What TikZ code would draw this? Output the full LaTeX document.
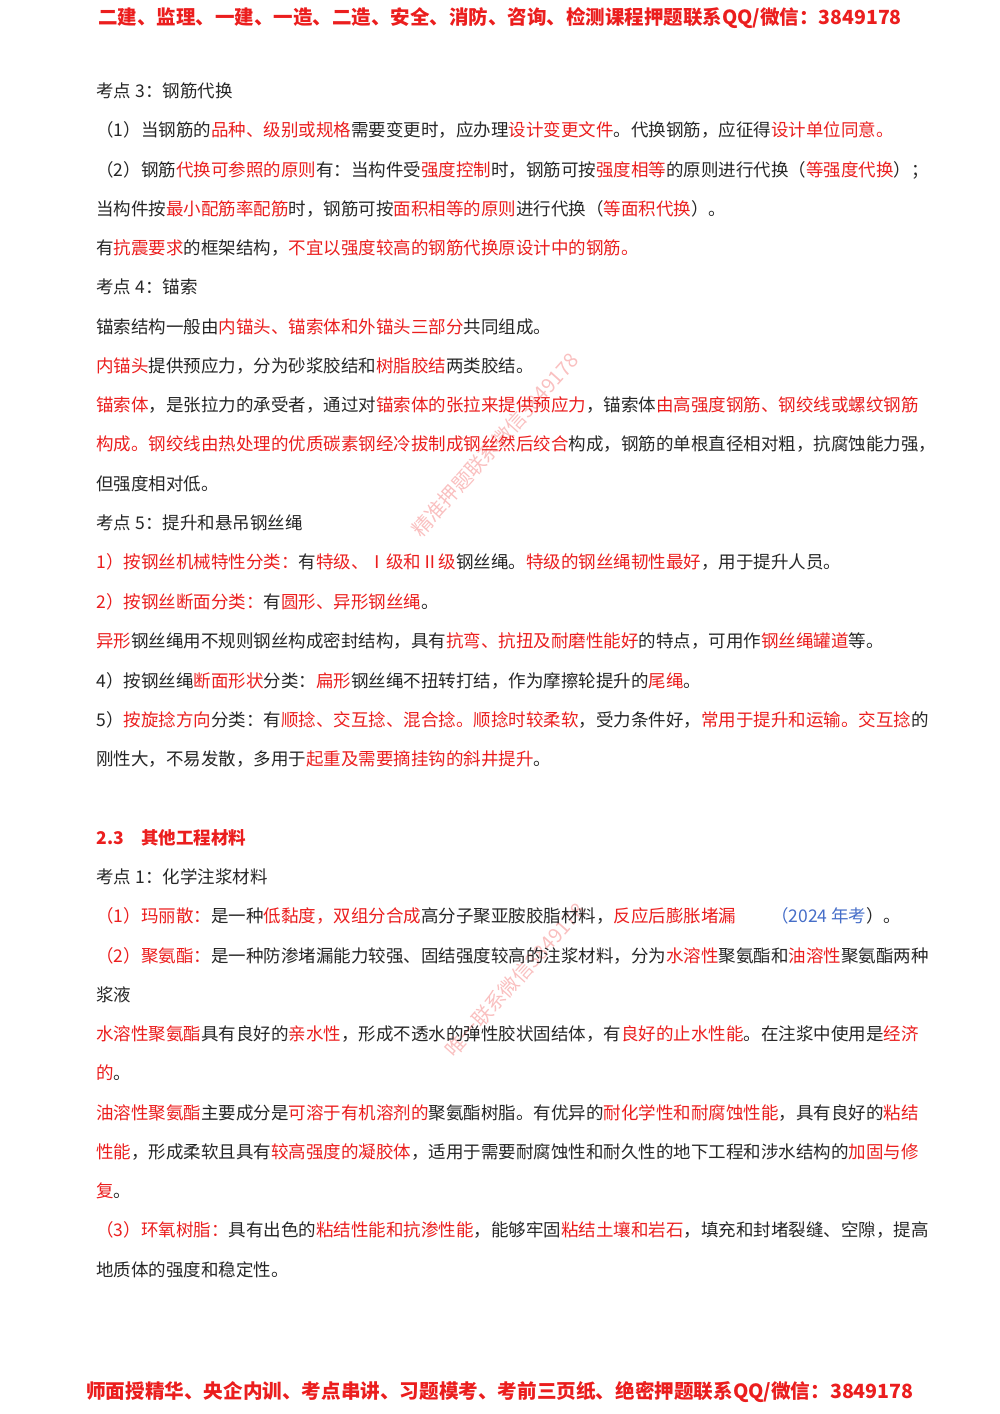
\documentclass[tikz,border=0pt]{standalone}
\usepackage{fontspec}
\setmainfont{Noto Sans CJK SC}
\definecolor{rd}{RGB}{235,30,30}
\definecolor{bl}{RGB}{70,110,200}
\newcommand\rd[1]{\textcolor{rd}{#1}}
\newcommand\bl[1]{\textcolor{bl}{#1}}
\begin{document}
\begin{tikzpicture}[x=0.5pt,y=-0.5pt,
  ln/.style={anchor=west,inner sep=0pt,font=\fontsize{8.75}{10}\selectfont,text=black!85},
  hd/.style={anchor=center,inner sep=0pt,font=\fontsize{9.8}{11}\bfseries\selectfont,text=rd},
  wm/.style={rotate=48,text=rd!40,opacity=0.7,inner sep=0pt,font=\fontsize{10}{12}\selectfont}]
\useasboundingbox (0,0) rectangle (1000,1414);
\node[hd,font=\fontsize{9.75}{11}\bfseries\selectfont] (h) at (500,18) {二建、监理、一建、一造、二造、安全、消防、咨询、检测课程押题联系QQ/微信：3849178};
\node[wm] (w1) at (495,445) {精准押题联系微信3849178};
\node[wm] (w2) at (515,980) {唯一联系微信3849178};
\node[ln] (l1) at (96,91) {考点 3：钢筋代换};
\node[ln] (l2) at (96,130) {（1）当钢筋的\rd{品种、级别或规格}需要变更时，应办理\rd{设计变更文件}。代换钢筋，应征得\rd{设计单位同意。}};
\node[ln] (l3) at (96,170) {（2）钢筋\rd{代换可参照的原则}有：当构件受\rd{强度控制}时，钢筋可按\rd{强度相等}的原则进行代换（\rd{等强度代换}）；};
\node[ln] (l4) at (96,209) {当构件按\rd{最小配筋率配筋}时，钢筋可按\rd{面积相等的原则}进行代换（\rd{等面积代换}）。};
\node[ln] (l5) at (96,248) {有\rd{抗震要求}的框架结构，\rd{不宜以强度较高的钢筋代换原设计中的钢筋。}};
\node[ln] (l6) at (96,287) {考点 4：锚索};
\node[ln] (l7) at (96,327) {锚索结构一般由\rd{内锚头、锚索体和外锚头三部分}共同组成。};
\node[ln] (l8) at (96,366) {\rd{内锚头}提供预应力，分为砂浆胶结和\rd{树脂胶结}两类胶结。};
\node[ln] (l9) at (96,405) {\rd{锚索体}，是张拉力的承受者，通过对\rd{锚索体的张拉来提供预应力}，锚索体\rd{由高强度钢筋、钢绞线或螺纹钢筋}};
\node[ln] (l10) at (96,444) {\rd{构成。钢绞线由热处理的优质碳素钢经冷拔制成钢丝然后绞合}构成，钢筋的单根直径相对粗，抗腐蚀能力强，};
\node[ln] (l11) at (96,484) {但强度相对低。};
\node[ln] (l12) at (96,523) {考点 5：提升和悬吊钢丝绳};
\node[ln] (l13) at (96,562) {\rd{1）按钢丝机械特性分类：}有\rd{特级、Ⅰ级和Ⅱ级}钢丝绳。\rd{特级的钢丝绳韧性最好}，用于提升人员。};
\node[ln] (l14) at (96,602) {\rd{2）按钢丝断面分类：}有\rd{圆形、异形钢丝绳}。};
\node[ln] (l15) at (96,641) {\rd{异形}钢丝绳用不规则钢丝构成密封结构，具有\rd{抗弯、抗扭及耐磨性能好}的特点，可用作\rd{钢丝绳罐道}等。};
\node[ln] (l16) at (96,681) {4）按钢丝绳\rd{断面形状}分类：\rd{扁形}钢丝绳不扭转打结，作为摩擦轮提升的\rd{尾绳}。};
\node[ln] (l17) at (96,720) {5）\rd{按旋捻方向}分类：有\rd{顺捻、交互捻、混合捻。顺捻时较柔软}，受力条件好，\rd{常用于提升和运输。交互捻}的};
\node[ln] (l18) at (96,759) {刚性大，不易发散，多用于\rd{起重及需要摘挂钩的斜井提升}。};
\node[ln,font=\fontsize{8.75}{10}\bfseries\selectfont,text=rd] (s23) at (96,838) {2.3\quad 其他工程材料};
\node[ln] (m1) at (96,877) {考点 1：化学注浆材料};
\node[ln] (m2) at (96,916) {\rd{（1）玛丽散：}是一种\rd{低黏度，双组分合成}高分子聚亚胺胶脂材料，\rd{反应后膨胀堵漏}\qquad\bl{（2024 年考}）。};
\node[ln] (m3) at (96,956) {\rd{（2）聚氨酯：}是一种防渗堵漏能力较强、固结强度较高的注浆材料，分为\rd{水溶性}聚氨酯和\rd{油溶性}聚氨酯两种};
\node[ln] (m4) at (96,995) {浆液};
\node[ln] (m5) at (96,1034) {\rd{水溶性聚氨酯}具有良好的\rd{亲水性}，形成不透水的弹性胶状固结体，有\rd{良好的止水性能}。在注浆中使用是\rd{经济}};
\node[ln] (m6) at (96,1073) {\rd{的}。};
\node[ln] (m7) at (96,1113) {\rd{油溶性聚氨酯}主要成分是\rd{可溶于有机溶剂的}聚氨酯树脂。有优异的\rd{耐化学性和耐腐蚀性能}，具有良好的\rd{粘结}};
\node[ln] (m8) at (96,1152) {\rd{性能}，形成柔软且具有\rd{较高强度的凝胶体}，适用于需要耐腐蚀性和耐久性的地下工程和涉水结构的\rd{加固与修}};
\node[ln] (m9) at (96,1191) {\rd{复}。};
\node[ln] (m10) at (96,1230) {\rd{（3）环氧树脂：}具有出色的\rd{粘结性能和抗渗性能}，能够牢固\rd{粘结土壤和岩石}，填充和封堵裂缝、空隙，提高};
\node[ln] (m11) at (96,1270) {地质体的强度和稳定性。};
\node[hd,font=\fontsize{9.8}{11}\bfseries\selectfont] (f) at (500,1392) {师面授精华、央企内训、考点串讲、习题模考、考前三页纸、绝密押题联系QQ/微信：3849178};
\end{tikzpicture}
\end{document}
